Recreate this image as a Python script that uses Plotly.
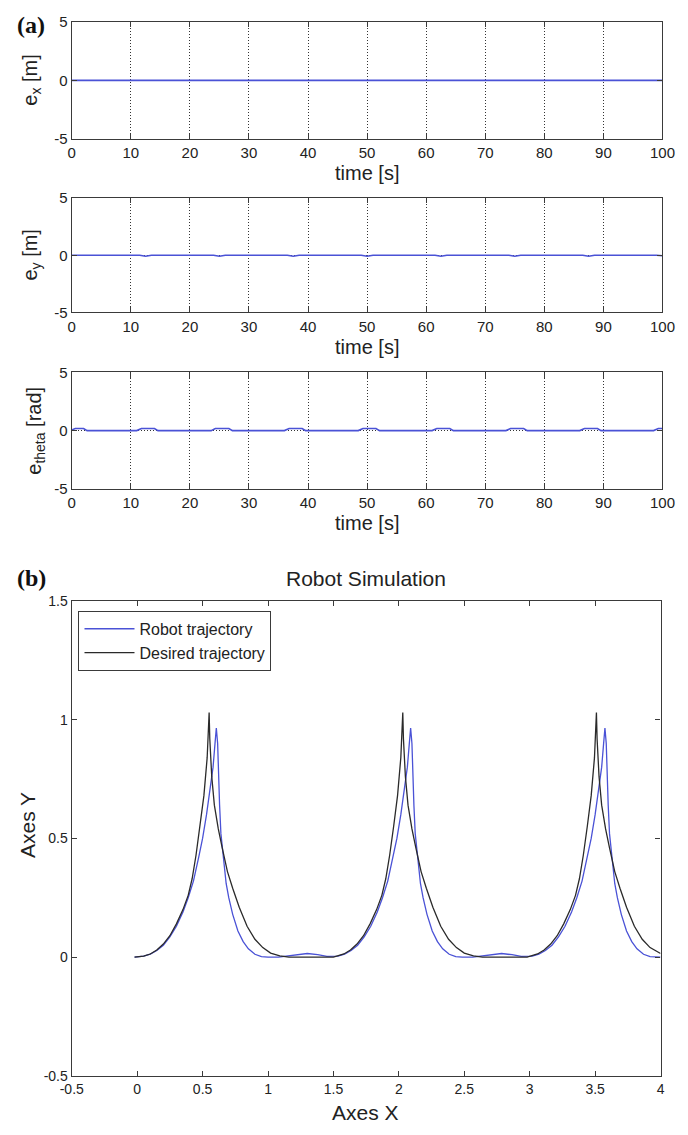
import plotly.graph_objects as go

# ---------------- data: panel (a) tracking errors ----------------
t_ex = [0, 12.5, 25, 37.5, 50, 62.5, 75, 87.5, 100]
e_x = [0.0, 0.0, 0.0, 0.0, 0.0, 0.0, 0.0, 0.0, 0.0]

t_ey = [0, 11.5, 12.5, 13.5, 24, 25, 26, 36.5, 37.5, 38.5, 49, 50, 51,
        61.5, 62.5, 63.5, 74, 75, 76, 86.5, 87.5, 88.5, 99, 100]
e_y = [0.0, 0.0, -0.08, 0.0, 0.0, -0.08, 0.0, 0.0, -0.08, 0.0, 0.0, -0.08, 0.0,
       0.0, -0.08, 0.0, 0.0, -0.08, 0.0, 0.0, -0.08, 0.0, 0.0, -0.05]

t_eth = [0, 0.6, 2.0, 2.6, 11.0, 11.8, 14.0, 14.6, 23.6, 24.3, 26.6, 27.2,
         36.0, 36.8, 39.0, 39.6, 48.5, 49.3, 51.5, 52.1, 61.0, 61.8, 64.0, 64.6,
         73.5, 74.3, 76.5, 77.1, 86.0, 86.8, 89.0, 89.6, 98.5, 99.3, 100]
e_theta = [0.05, 0.18, 0.18, 0.0, 0.0, 0.18, 0.18, 0.0, 0.0, 0.18, 0.18, 0.0,
           0.0, 0.18, 0.18, 0.0, 0.0, 0.18, 0.18, 0.0, 0.0, 0.18, 0.18, 0.0,
           0.0, 0.18, 0.18, 0.0, 0.0, 0.18, 0.18, 0.0, 0.0, 0.18, 0.18]

time_ticks = [0, 10, 20, 30, 40, 50, 60, 70, 80, 90, 100]
err_ticks = [-5, 0, 5]
err_labels = ["-5", "0", "5"]

# ---------------- data: panel (b) robot simulation ----------------
robot_x = [-0.02, 0.05, 0.10, 0.15, 0.20, 0.25, 0.30, 0.35, 0.39, 0.43, 0.47, 0.50,
           0.53, 0.56, 0.58, 0.595, 0.605, 0.615, 0.62, 0.63, 0.64, 0.66, 0.68, 0.70,
           0.73, 0.77, 0.81, 0.85, 0.90, 0.95, 1.00, 1.08, 1.15, 1.22, 1.30, 1.38, 1.45,
           1.535, 1.585, 1.635, 1.685, 1.735, 1.785, 1.835, 1.875, 1.915, 1.955, 1.985,
           2.015, 2.045, 2.065, 2.08, 2.09, 2.10, 2.105, 2.115, 2.125, 2.145, 2.165, 2.185,
           2.215, 2.255, 2.295, 2.335, 2.385, 2.435, 2.485, 2.565, 2.635, 2.705, 2.785, 2.865, 2.935,
           3.02, 3.07, 3.12, 3.17, 3.22, 3.27, 3.32, 3.36, 3.40, 3.44, 3.47,
           3.50, 3.53, 3.55, 3.565, 3.575, 3.585, 3.59, 3.60, 3.61, 3.63, 3.65, 3.67,
           3.70, 3.74, 3.78, 3.82, 3.87, 3.92, 3.97, 4.0]
robot_y = [0.0, 0.004, 0.012, 0.028, 0.05, 0.085, 0.13, 0.19, 0.25, 0.32, 0.42, 0.50,
           0.60, 0.71, 0.80, 0.90, 0.965, 0.90, 0.78, 0.64, 0.52, 0.40, 0.31, 0.25,
           0.18, 0.11, 0.065, 0.035, 0.012, 0.002, 0.0, 0.0, 0.005, 0.012, 0.015, 0.01, 0.003,
           0.004, 0.012, 0.028, 0.05, 0.085, 0.13, 0.19, 0.25, 0.32, 0.42, 0.50,
           0.60, 0.71, 0.80, 0.90, 0.965, 0.90, 0.78, 0.64, 0.52, 0.40, 0.31, 0.25,
           0.18, 0.11, 0.065, 0.035, 0.012, 0.002, 0.0, 0.0, 0.005, 0.012, 0.015, 0.01, 0.003,
           0.004, 0.012, 0.028, 0.05, 0.085, 0.13, 0.19, 0.25, 0.32, 0.42, 0.50,
           0.60, 0.71, 0.80, 0.90, 0.965, 0.90, 0.78, 0.64, 0.52, 0.40, 0.31, 0.25,
           0.18, 0.11, 0.065, 0.035, 0.012, 0.002, 0.0, 0.0]

desired_x = [-0.02, 0.05, 0.10, 0.15, 0.20, 0.25, 0.30, 0.35, 0.39, 0.42, 0.45, 0.48,
             0.51, 0.535, 0.55, 0.555, 0.57, 0.59, 0.62, 0.65, 0.69, 0.73, 0.78, 0.84,
             0.90, 0.96, 1.02, 1.09, 1.16, 1.50,
             1.53, 1.58, 1.63, 1.68, 1.73, 1.78, 1.83, 1.87, 1.90, 1.93, 1.96, 1.99,
             2.015, 2.03, 2.035, 2.05, 2.07, 2.10, 2.13, 2.17, 2.21, 2.26, 2.32, 2.38,
             2.44, 2.50, 2.57, 2.64, 2.98,
             3.01, 3.06, 3.11, 3.16, 3.21, 3.26, 3.31, 3.35, 3.38, 3.41, 3.44, 3.47,
             3.495, 3.51, 3.515, 3.53, 3.55, 3.58, 3.61, 3.65, 3.69, 3.74, 3.80, 3.86,
             3.92, 4.0]
desired_y = [0.0, 0.004, 0.013, 0.03, 0.055, 0.09, 0.14, 0.20, 0.26, 0.33, 0.43, 0.55,
             0.68, 0.84, 1.03, 0.92, 0.76, 0.64, 0.54, 0.46, 0.36, 0.29, 0.21, 0.13,
             0.075, 0.04, 0.017, 0.005, 0.0, 0.0,
             0.004, 0.013, 0.03, 0.055, 0.09, 0.14, 0.20, 0.26, 0.33, 0.43, 0.55, 0.68,
             0.84, 1.03, 0.92, 0.76, 0.64, 0.54, 0.46, 0.36, 0.29, 0.21, 0.13, 0.075,
             0.04, 0.017, 0.005, 0.0, 0.0,
             0.004, 0.013, 0.03, 0.055, 0.09, 0.14, 0.20, 0.26, 0.33, 0.43, 0.55, 0.68,
             0.84, 1.03, 0.92, 0.76, 0.64, 0.54, 0.46, 0.36, 0.29, 0.21, 0.13, 0.075,
             0.04, 0.015]

xsim_ticks = [-0.5, 0, 0.5, 1, 1.5, 2, 2.5, 3, 3.5, 4]
xsim_labels = ["-0.5", "0", "0.5", "1", "1.5", "2", "2.5", "3", "3.5", "4"]
ysim_ticks = [-0.5, 0, 0.5, 1, 1.5]
ysim_labels = ["-0.5", "0", "0.5", "1", "1.5"]

# ---------------- figure ----------------
W, H = 688, 1135
BLUE = "#4a52d6"
DARK = "#3a3a3a"
FONT = "Liberation Sans, Arial, sans-serif"


def px_x(p):
    return p / W


def px_y(p):
    return 1 - p / H


fig = go.Figure()

fig.add_trace(go.Scatter(x=t_ex, y=e_x, mode="lines", line=dict(color=BLUE, width=1.6),
                         xaxis="x", yaxis="y", showlegend=False))
fig.add_trace(go.Scatter(x=t_ey, y=e_y, mode="lines", line=dict(color=BLUE, width=1.6),
                         xaxis="x2", yaxis="y2", showlegend=False))
fig.add_trace(go.Scatter(x=t_eth, y=e_theta, mode="lines", line=dict(color=BLUE, width=1.6),
                         xaxis="x3", yaxis="y3", showlegend=False))
fig.add_trace(go.Scatter(x=robot_x, y=robot_y, mode="lines", name="Robot trajectory",
                         line=dict(color=BLUE, width=1.3), xaxis="x4", yaxis="y4"))
fig.add_trace(go.Scatter(x=desired_x, y=desired_y, mode="lines", name="Desired trajectory",
                         line=dict(color="#2a2a2a", width=1.3), xaxis="x4", yaxis="y4"))


def axis_common(size):
    return dict(showline=True, linecolor=DARK, linewidth=1.3, mirror="ticks",
                ticks="inside", ticklen=5, tickcolor=DARK, zeroline=False,
                tickfont=dict(family=FONT, size=size, color="#222"))


top_x_dom = [px_x(62), px_x(675)]
panels = [(13, 132), (192, 308), (369, 487)]
layout = dict(width=W, height=H, margin=dict(l=0, r=0, t=0, b=0),
              paper_bgcolor="white", plot_bgcolor="white",
              font=dict(family=FONT, color="#222"))

for i, (top, bot) in enumerate(panels, start=1):
    sfx = "" if i == 1 else str(i)
    layout["xaxis" + sfx] = dict(domain=top_x_dom, anchor="y" + sfx, range=[0, 100],
                                 tickvals=time_ticks, showgrid=True, gridcolor="#333",
                                 griddash="1px,2px", gridwidth=1, **axis_common(15))
    layout["yaxis" + sfx] = dict(domain=[px_y(bot), px_y(top)], anchor="x" + sfx,
                                 range=[-5, 5], tickvals=err_ticks, ticktext=err_labels,
                                 showgrid=True, gridcolor="#333", griddash="1px,2px",
                                 gridwidth=1, **axis_common(15))

layout["xaxis4"] = dict(domain=[px_x(62), px_x(673)], anchor="y4", range=[-0.5, 4],
                        tickvals=xsim_ticks, ticktext=xsim_labels, showgrid=False,
                        **axis_common(14))
layout["yaxis4"] = dict(domain=[px_y(1083), px_y(601)], anchor="x4", range=[-0.5, 1.5],
                        tickvals=ysim_ticks, ticktext=ysim_labels, showgrid=False,
                        **axis_common(14))

layout["legend"] = dict(x=px_x(69), y=px_y(611), xanchor="left", yanchor="top",
                        bgcolor="white", bordercolor=DARK, borderwidth=1,
                        font=dict(family=FONT, size=16, color="#222"),
                        tracegroupgap=0, itemwidth=50)

fig.update_layout(**layout)

ann = []
label_font = dict(family=FONT, size=20, color="#222")
for (top, bot), lab, lx in zip(panels, ["e<sub>x</sub> [m]", "e<sub>y</sub> [m]",
                                        "e<sub>theta</sub> [rad]"], [20, 20, 24]):
    ann.append(dict(text=lab, x=px_x(lx), y=px_y((top + bot) / 2), xref="paper", yref="paper",
                    showarrow=False, textangle=-90, font=label_font,
                    xanchor="center", yanchor="middle"))
    ann.append(dict(text="time [s]", x=px_x(368), y=px_y(bot + 35), xref="paper",
                    yref="paper", showarrow=False, font=label_font,
                    xanchor="center", yanchor="middle"))

ann.append(dict(text="Robot Simulation", x=px_x(367), y=px_y(578), xref="paper", yref="paper",
                showarrow=False, font=dict(family=FONT, size=21, color="#222"),
                xanchor="center", yanchor="middle"))
ann.append(dict(text="Axes X", x=px_x(367), y=px_y(1120), xref="paper", yref="paper",
                showarrow=False, font=dict(family=FONT, size=21, color="#222"),
                xanchor="center", yanchor="middle"))
ann.append(dict(text="Axes Y", x=px_x(16), y=px_y(828), xref="paper", yref="paper",
                showarrow=False, textangle=-90, font=dict(family=FONT, size=21, color="#222"),
                xanchor="center", yanchor="middle"))
ann.append(dict(text="<b>(a)</b>", x=px_x(3), y=px_y(16), xref="paper", yref="paper",
                showarrow=False, font=dict(family="Liberation Serif, Times New Roman, serif",
                                           size=24, color="#111"),
                xanchor="left", yanchor="middle"))
ann.append(dict(text="<b>(b)</b>", x=px_x(3), y=px_y(578), xref="paper", yref="paper",
                showarrow=False, font=dict(family="Liberation Serif, Times New Roman, serif",
                                           size=24, color="#111"),
                xanchor="left", yanchor="middle"))
fig.update_layout(annotations=ann)

fig.write_html("out.html")
